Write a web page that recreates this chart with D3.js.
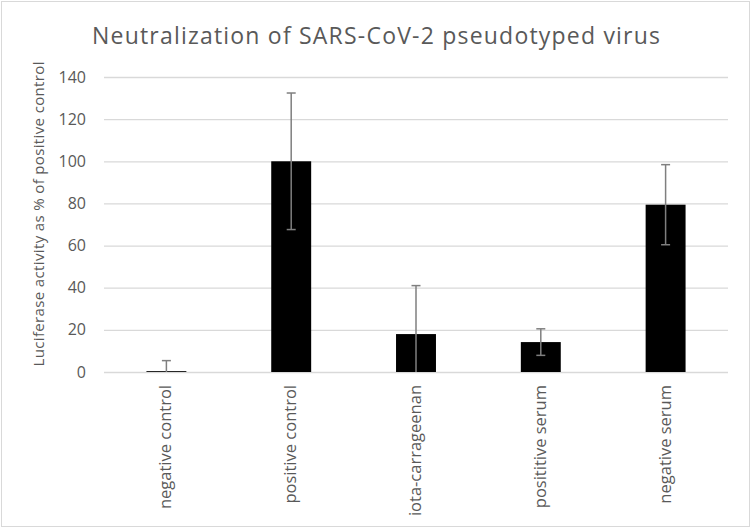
<!DOCTYPE html>
<html>
<head>
<meta charset="utf-8">
<script src="https://cdn.jsdelivr.net/npm/d3@7"></script>
<style>
  body { margin: 0; background: #fff; }
  text { font-family: 'Open Sans', sans-serif; fill: #595959; }
</style>
</head>
<body>
<div id="bar-chart"></div>
<script>
const categories = ['negative control', 'positive control', 'iota-carrageenan', 'posititive serum', 'negative serum'];
const means = [0.4, 100, 18, 14.2, 79.4];
const errors = [5, 32.4, 23, 6.3, 19];
const yTicks = [0, 20, 40, 60, 80, 100, 120, 140];

document.addEventListener('DOMContentLoaded', () => {

  const width = 751;
  const height = 528;
  const left = 104, right = 728, top = 77, bottom = 372;

  const svg = d3.select('#bar-chart')
                .append('svg')
                .attr('width', width)
                .attr('height', height);

  svg.append('rect')
     .attr('x', 1.5).attr('y', 1.5)
     .attr('width', width - 3).attr('height', height - 3)
     .attr('fill', '#fff')
     .attr('stroke', '#d9d9d9');

  const xScale = d3.scaleBand()
                   .domain(categories)
                   .range([left, right])
                   .paddingInner(0.68)
                   .paddingOuter(0.34);

  const yScale = d3.scaleLinear()
                   .domain([0, 140])
                   .range([bottom, top]);

  // gridlines + tick labels
  const yAxis = d3.axisLeft(yScale)
                  .tickValues(yTicks)
                  .tickSize(-(right - left))
                  .tickPadding(18);

  const gy = svg.append('g')
                .attr('transform', 'translate(' + left + ', 0)')
                .call(yAxis);
  gy.select('.domain').remove();
  gy.selectAll('line').attr('stroke', '#d9d9d9').attr('stroke-width', 1.3);
  gy.selectAll('text').style('font-size', '16px').attr('fill', '#595959');

  // bars
  svg.selectAll('.bar')
     .data(means)
     .enter()
     .append('rect')
     .attr('class', 'bar')
     .attr('x', (d, i) => xScale(categories[i]))
     .attr('y', (d) => yScale(d))
     .attr('width', xScale.bandwidth())
     .attr('height', (d) => yScale(0) - yScale(d))
     .style('fill', '#000');

  // error bars
  const cx = (i) => xScale(categories[i]) + xScale.bandwidth() / 2;
  const hi = (i) => yScale(means[i] + errors[i]);
  const lo = (i) => yScale(Math.max(0, means[i] - errors[i]));
  const eg = svg.append('g').attr('stroke', '#7f7f7f').attr('stroke-width', 1.5);

  means.forEach((d, i) => {
    eg.append('line').attr('x1', cx(i)).attr('x2', cx(i)).attr('y1', hi(i)).attr('y2', lo(i));
    eg.append('line').attr('x1', cx(i) - 4.5).attr('x2', cx(i) + 4.5).attr('y1', hi(i)).attr('y2', hi(i));
    if (means[i] - errors[i] > 0) {
      eg.append('line').attr('x1', cx(i) - 4.5).attr('x2', cx(i) + 4.5).attr('y1', lo(i)).attr('y2', lo(i));
    }
  });

  // category labels
  svg.selectAll('.cat')
     .data(categories)
     .enter()
     .append('text')
     .attr('class', 'cat')
     .attr('transform', (d) => 'translate(' + (xScale(d) + xScale.bandwidth() / 2 + 5) + ', 385) rotate(-90)')
     .attr('text-anchor', 'end')
     .style('font-size', '16.5px')
     .text((d) => d);

  svg.append('text')
     .attr('transform', 'translate(44, 214) rotate(-90)')
     .attr('text-anchor', 'middle')
     .attr('textLength', 305)
     .style('font-size', '15px')
     .text('Luciferase activity as % of positive control');

  svg.append('text')
     .attr('x', 376)
     .attr('y', 44)
     .attr('text-anchor', 'middle')
     .attr('textLength', 568)
     .style('font-size', '23px')
     .text('Neutralization of SARS-CoV-2 pseudotyped virus');

});
</script>
</body>
</html>
